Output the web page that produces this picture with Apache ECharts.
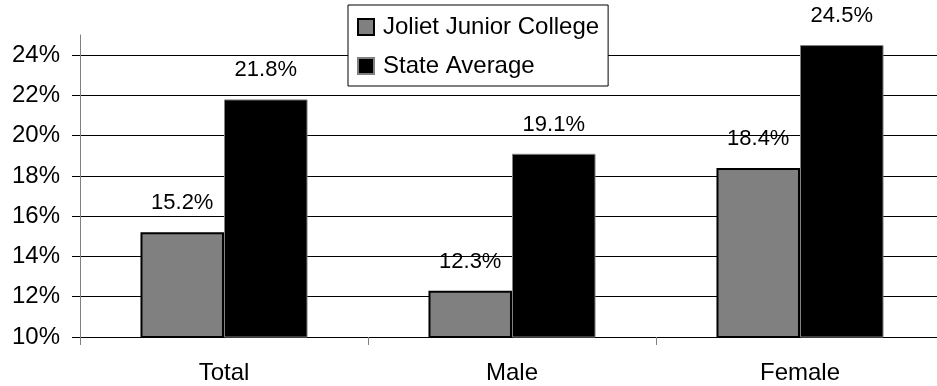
<!DOCTYPE html>
<html>
<head>
<meta charset="utf-8">
<script src="https://cdn.jsdelivr.net/npm/echarts@6/dist/echarts.min.js"></script>
<style>
  html, body { margin: 0; padding: 0; background: #fff; }
  #chart { width: 937px; height: 386px; }
</style>
</head>
<body>
<div id="chart"></div>
<script>
// Share of students by group, college vs. statewide
const categories = ['Total', 'Male', 'Female'];
const collegeValues = [15.2, 12.3, 18.4];
const stateValues = [21.8, 19.1, 24.5];
const seriesNames = ['Joliet Junior College', 'State Average'];

const FONT = '"Liberation Sans", Arial, sans-serif';
const chart = echarts.init(document.getElementById('chart'), null, { renderer: 'canvas' });

const pct = v => v.toFixed(1) + '%';

chart.setOption({
  animation: false,
  backgroundColor: '#fff',
  textStyle: { fontFamily: FONT, color: '#000' },
  grid: {
    left: 80, top: 35, width: 864, height: 302,
    containLabel: false,
    outerBoundsMode: 'none'
  },
  legend: {
    orient: 'vertical',
    left: 348,
    top: 5,
    width: 263,
    padding: [10, 9, 8, 9],
    itemGap: 15,
    itemWidth: 16,
    itemHeight: 16,
    icon: 'rect',
    backgroundColor: '#fff',
    borderColor: '#000',
    borderWidth: 1,
    textStyle: { fontFamily: FONT, fontSize: 24, color: '#000', padding: [0, 0, 0, 4] },
    data: seriesNames
  },
  xAxis: {
    type: 'category',
    data: categories,
    axisLine: { lineStyle: { color: '#000', width: 1 } },
    axisTick: { show: true, alignWithLabel: false, length: 8, lineStyle: { color: '#808080' } },
    axisLabel: { fontFamily: FONT, fontSize: 24, color: '#000', margin: 24 }
  },
  yAxis: {
    type: 'value',
    min: 10,
    max: 25,
    interval: 2,
    axisLine: { show: true, lineStyle: { color: '#808080', width: 1 } },
    axisTick: { show: true, length: 8, lineStyle: { color: '#000' } },
    axisLabel: {
      fontFamily: FONT, fontSize: 24, color: '#000', margin: 20,
      showMaxLabel: false,
      formatter: v => v + '%'
    },
    splitLine: { show: true, showMaxLine: false, lineStyle: { color: '#000', width: 1 } }
  },
  series: [
    {
      name: seriesNames[0],
      type: 'bar',
      data: collegeValues,
      barGap: '0%',
      barCategoryGap: '42%',
      itemStyle: { color: '#808080', borderColor: '#000', borderWidth: 2 },
      label: {
        show: true, position: 'top', distance: 18,
        fontFamily: FONT, fontSize: 22, color: '#000',
        formatter: p => pct(p.value)
      }
    },
    {
      name: seriesNames[1],
      type: 'bar',
      data: stateValues,
      itemStyle: { color: '#000', borderColor: '#808080', borderWidth: 1 },
      label: {
        show: true, position: 'top', distance: 18,
        fontFamily: FONT, fontSize: 22, color: '#000',
        formatter: p => pct(p.value)
      }
    }
  ]
});
</script>
</body>
</html>
